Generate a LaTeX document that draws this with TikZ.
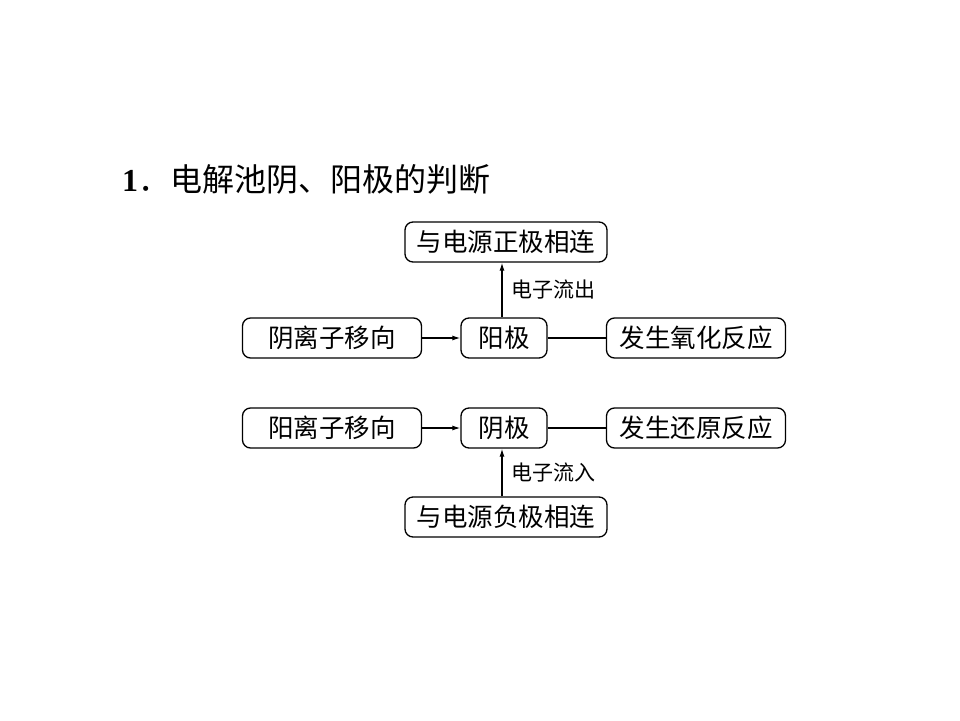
\documentclass[tikz,border=0pt]{standalone}
\usepackage{fontspec}
\setmainfont{Liberation Serif}
\newfontfamily\cjk{Noto Sans CJK SC}
\usetikzlibrary{arrows.meta}
\begin{document}
\begin{tikzpicture}[x=1pt,y=-1pt,
  box/.style={draw=black,line width=1.3pt,rounded corners=8pt,minimum height=40pt,inner sep=0pt,font=\cjk\fontsize{25.5}{28}\selectfont},
  conn/.style={line width=1.2pt},
  arr/.style={line width=1.2pt,-{Latex[length=8pt,width=5pt]}},
  lab/.style={font=\cjk\fontsize{21}{24}\selectfont,anchor=west,inner sep=0pt}]
\useasboundingbox (0,0) rectangle (960,720);
\node[anchor=west,inner sep=0pt] (title) at (122,179) {\fontsize{32}{36}\selectfont\textbf{1}{\cjk ．电解池阴、阳极的判断}};
% row 1
\node[box,minimum width=202pt] (pos) at (506,242) {与电源正极相连};
\node[box,minimum width=179pt] (an) at (332,338) {阴离子移向};
\node[box,minimum width=86pt] (anode) at (504,338) {阳极};
\node[box,minimum width=179pt] (ox) at (696,338) {发生氧化反应};
% row 2
\node[box,minimum width=179pt] (cat) at (332,428) {阳离子移向};
\node[box,minimum width=86pt] (cathode) at (504,428) {阴极};
\node[box,minimum width=179pt] (red) at (696,428) {发生还原反应};
\node[box,minimum width=202pt] (neg) at (506,517) {与电源负极相连};
% connectors
\draw[arr] (an.east) -- (anode.west);
\draw[conn] (anode.east) -- (ox.west);
\draw[arr] (anode.north -| 502,0) -- (pos.south -| 502,0) node[lab,midway,xshift=9pt] (l1) {电子流出};
\draw[arr] (cat.east) -- (cathode.west);
\draw[conn] (cathode.east) -- (red.west);
\draw[arr] (neg.north -| 502,0) -- (cathode.south -| 502,0) node[lab,midway,xshift=9pt] (l2) {电子流入};
\end{tikzpicture}
\end{document}
